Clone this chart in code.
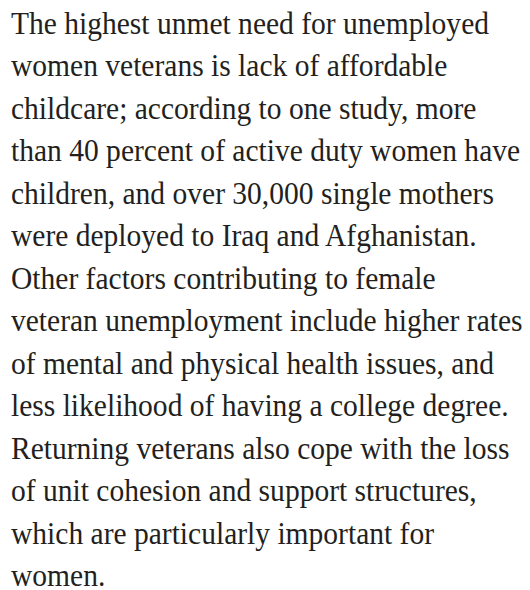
<!DOCTYPE html>
<html>
<head>
<meta charset="utf-8">
<script src="https://cdn.jsdelivr.net/npm/chart.js@4"></script>
<style>
  html, body { margin: 0; padding: 0; background: #ffffff; }
  body { width: 530px; height: 590px; overflow: hidden; position: relative; }
  #text {
    position: absolute; left: 11px; top: 2.5px;
    font-family: "Liberation Serif", "Times New Roman", serif;
    font-size: 30.5px; line-height: 42.5px; color: #231f20;
    white-space: nowrap;
    transform: scaleX(0.968); transform-origin: 0 0;
  }
</style>
</head>
<body>
<div id="text"></div>
<script>
const lines = [
  "The highest unmet need for unemployed",
  "women veterans is lack of affordable",
  "childcare; according to one study, more",
  "than 40 percent of active duty women have",
  "children, and over 30,000 single mothers",
  "were deployed to Iraq and Afghanistan.",
  "Other factors contributing to female",
  "veteran unemployment include higher rates",
  "of mental and physical health issues, and",
  "less likelihood of having a college degree.",
  "Returning veterans also cope with the loss",
  "of unit cohesion and support structures,",
  "which are particularly important for",
  "women."
];
const box = document.getElementById('text');
lines.forEach(l => { const d = document.createElement('div'); d.textContent = l; box.appendChild(d); });
</script>
</body>
</html>
